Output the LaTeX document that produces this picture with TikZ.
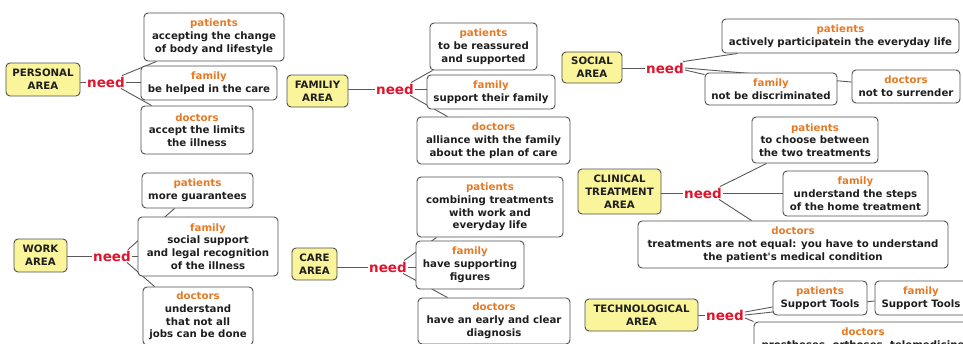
\documentclass[tikz,border=0pt]{standalone}
\usepackage{fontspec}
\setmainfont{DejaVu Sans}
\usetikzlibrary{backgrounds}
\definecolor{areaf}{HTML}{FAF49A}
\definecolor{bordc}{HTML}{505050}
\definecolor{linec}{HTML}{5A5A5A}
\definecolor{rolec}{HTML}{E67A24}
\definecolor{needc}{HTML}{E0142C}
\definecolor{txt}{HTML}{1E1E1E}
\newcommand{\rolelbl}[1]{{\color{rolec}#1}}
\begin{document}
\begin{tikzpicture}[x=1pt,y=-1pt,
  boxfont/.style={font=\bfseries\fontsize{10.2}{12.8}\selectfont},
  area/.style={boxfont, draw=bordc, line width=0.9pt, fill=areaf, rounded corners=4pt, align=center, text=txt, inner sep=0pt},
  leaf/.style={boxfont, draw=bordc, line width=0.9pt, fill=white, rounded corners=4pt, align=center, text=txt, inner sep=0pt},
  needl/.style={text=needc, font=\bfseries\fontsize{13.5}{14}\selectfont, inner sep=1pt},
  conn/.style={draw=linec, line width=0.9pt}]
\useasboundingbox (0,0) rectangle (963,343);
\clip (0,0) rectangle (963,343);

% ---------------- PERSONAL
\node[area, minimum width=74pt, minimum height=33pt] (PA) at (43,79.5) {PERSONAL\\AREA};
\node[needl] (n1) at (106,82) {need};
\node[leaf, minimum width=140pt, minimum height=48pt] (pp) at (214,37) {\rolelbl{patients}\\accepting the change\\of body and lifestyle};
\node[leaf, minimum width=136pt, minimum height=34pt] (pf) at (209,83) {\rolelbl{family}\\be helped in the care};
\node[leaf, minimum width=112pt, minimum height=48pt] (pd) at (197,130) {\rolelbl{doctors}\\accept the limits\\the illness};

% ---------------- WORK
\node[area, minimum width=53pt, minimum height=33pt] (WA) at (40.5,255.5) {WORK\\AREA};
\node[needl] (n2) at (112,256) {need};
\node[leaf, minimum width=111pt, minimum height=35pt] (wp) at (197.5,190.5) {\rolelbl{patients}\\more guarantees};
\node[leaf, minimum width=140pt, minimum height=59pt] (wf) at (208,246.5) {\rolelbl{family}\\social support\\and legal recognition\\of the illness};
\node[leaf, minimum width=110pt, minimum height=58pt] (wd) at (198,316) {\rolelbl{doctors}\\understand\\that not all\\jobs can be done};

% ---------------- FAMILIY
\node[area, minimum width=61pt, minimum height=32pt] (FA) at (317.5,91) {FAMILIY\\AREA};
\node[needl] (n3) at (395,89) {need};
\node[leaf, minimum width=107pt, minimum height=47pt] (fp) at (483.5,46.5) {\rolelbl{patients}\\to be reassured\\and supported};
\node[leaf, minimum width=128pt, minimum height=34pt] (ff) at (491,92) {\rolelbl{family}\\support their family};
\node[leaf, minimum width=153pt, minimum height=47pt] (fd) at (493.5,140.5) {\rolelbl{doctors}\\alliance with the family\\about the plan of care};

% ---------------- CARE
\node[area, minimum width=45pt, minimum height=32pt] (CA) at (314.5,264) {CARE\\AREA};
\node[needl] (n4) at (388,267) {need};
\node[leaf, minimum width=146pt, minimum height=60pt] (cp) at (490,207) {\rolelbl{patients}\\combining treatments\\with work and\\everyday life};
\node[leaf, minimum width=108pt, minimum height=48pt] (cf) at (470,265) {\rolelbl{family}\\have supporting\\figures};
\node[leaf, minimum width=152pt, minimum height=46pt] (cd) at (494,321) {\rolelbl{doctors}\\have an early and clear\\diagnosis};

% ---------------- SOCIAL
\node[area, minimum width=60pt, minimum height=31pt] (SA) at (592,67.5) {SOCIAL\\AREA};
\node[needl] (n5) at (665,68) {need};
\node[leaf, minimum width=237pt, minimum height=34pt] (sp) at (840.5,36) {\rolelbl{patients}\\actively participatein the everyday life};
\node[leaf, minimum width=132pt, minimum height=32pt] (sf) at (771,89) {\rolelbl{family}\\not be discriminated};
\node[leaf, minimum width=108pt, minimum height=33pt] (sd) at (906,86.5) {\rolelbl{doctors}\\not to surrender};

% ---------------- CLINICAL
\node[area, minimum width=83pt, minimum height=45pt] (CL) at (619.5,191.5) {CLINICAL\\TREATMENT\\AREA};
\node[needl] (n6) at (703,193) {need};
\node[leaf, minimum width=126pt, minimum height=46pt] (clp) at (815,140) {\rolelbl{patients}\\to choose between\\the two treatments};
\node[leaf, minimum width=145pt, minimum height=45pt] (clf) at (855.5,193.5) {\rolelbl{family}\\understand the steps\\of the home treatment};
\node[leaf, minimum width=310pt, minimum height=47pt] (cld) at (793,244.5) {\rolelbl{doctors}\\treatments are not equal: you have to understand\\the patient\textquotesingle s medical condition};

% ---------------- TECHNOLOGICAL
\node[area, minimum width=113pt, minimum height=32pt] (TA) at (641.5,315) {TECHNOLOGICAL\\AREA};
\node[needl] (n7) at (725,315) {need};
\node[leaf, minimum width=94pt, minimum height=34pt] (tp) at (820,298) {\rolelbl{patients}\\Support Tools};
\node[leaf, minimum width=92pt, minimum height=34pt] (tf) at (921,298) {\rolelbl{family}\\Support Tools};
\node[leaf, minimum width=218pt, minimum height=34pt] (td) at (863,339) {\rolelbl{doctors}\\prostheses, orthoses, telemedicine};

\begin{scope}[on background layer]
\fill[white] (0,0) rectangle (963,343);
% personal
\draw[conn] (n1.west -| PA.east) -- (n1.west);
\draw[conn] ([xshift=-4pt]n1.north east) -- ([xshift=13pt]pp.south west);
\draw[conn] (n1.east) -- (n1.east -| pf.west);
\draw[conn] ([xshift=-5pt]n1.south east) -- ([xshift=11pt]pd.north west);
% work
\draw[conn] (n2.west -| WA.east) -- (n2.west);
\draw[conn] ([xshift=-4pt]n2.north east) -- ([xshift=33pt]wp.south west);
\draw[conn] (n2.east) -- (n2.east -| wf.west);
\draw[conn] ([xshift=-5pt]n2.south east) -- ([xshift=12pt]wd.north west);
% familiy
\draw[conn] (n3.west -| FA.east) -- (n3.west);
\draw[conn] ([xshift=-4pt]n3.north east) -- ([xshift=3pt]fp.south west);
\draw[conn] (n3.east) -- (n3.east -| ff.west);
\draw[conn] ([xshift=-5pt]n3.south east) -- ([xshift=31pt]fd.north west);
% care
\draw[conn] (n4.west -| CA.east) -- (n4.west);
\draw[conn] ([xshift=-4pt]n4.north east) -- ([xshift=20pt]cp.south west);
\draw[conn] (n4.east) -- (n4.east -| cf.west);
\draw[conn] ([xshift=-5pt]n4.south east) -- ([xshift=30pt]cd.north west);
% social
\draw[conn] (n5.west -| SA.east) -- (n5.west);
\draw[conn] ([xshift=-2pt]n5.north east) -- ([xshift=16pt]sp.south west);
\draw[conn] ([yshift=-2pt]n5.east) -- ([yshift=-2pt]sf.north west);
\draw[conn] (n5.east) -- ([yshift=4.5pt]sd.west);
% clinical
\draw[conn] (n6.west -| CL.east) -- (n6.west);
\draw[conn] ([xshift=-3pt]n6.north east) -- ([xshift=15pt]clp.south west);
\draw[conn] (n6.east) -- (n6.east -| clf.west);
\draw[conn] ([xshift=-4pt]n6.south east) -- ([xshift=114pt]cld.north west);
% technological
\draw[conn] (n7.west -| TA.east) -- (n7.west);
\draw[conn] ([yshift=3pt]n7.east) -- ([yshift=-9pt]tp.west);
\draw[conn] (n7.east) -- ([yshift=-3pt]tf.west);
\draw[conn] ([yshift=-3pt]n7.east) -- (td.north west);
\end{scope}
\end{tikzpicture}
\end{document}
